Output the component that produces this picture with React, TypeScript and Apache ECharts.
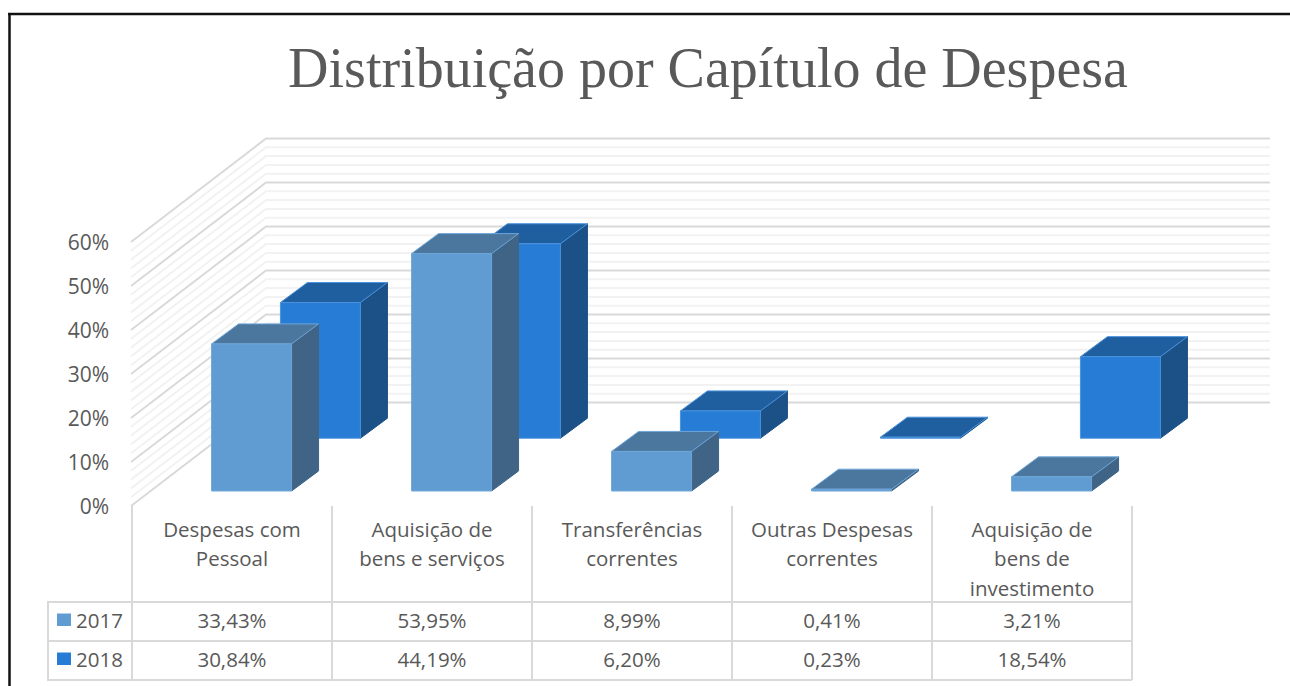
import React, { useEffect, useRef } from "react";
import * as echarts from "echarts";

const titleText = "Distribuição por Capítulo de Despesa";
const categories = [
  "Despesas com\nPessoal",
  "Aquisição de\nbens e serviços",
  "Transferências\ncorrentes",
  "Outras Despesas\ncorrentes",
  "Aquisição de\nbens de\ninvestimento",
];
const seriesNames = ["2017", "2018"];
const values2017 = [33.43, 53.95, 8.99, 0.41, 3.21];
const values2018 = [30.84, 44.19, 6.2, 0.23, 18.54];
const gridValues = Array.from({ length: 31 }, (_, i) => i * 2);

const WALL_DX = 135;
const WALL_DY = -103.5;
const BAR_DX = 27;
const BAR_DY = -20;
const BAR_HALF = 40;
const ROW_DEPTH = [0.145, 0.655];
const GRID_LEFT = 132;
const GRID_TOP = 242;
const GRID_W = 1000;
const GRID_H = 264;
const UI_FONT = "'Open Sans', sans-serif";
const TEXT_COLOR = "#595959";
const TABLE_COLOR = "#d9d9d9";

const palettes = [
  { front: "#609bd2", top: "#4b769e", side: "#3f6486", edge: "#6ea6d9" },
  { front: "#277dd5", top: "#1f5fa0", side: "#1c5187", edge: "#4a93dc" },
];

const fmt = (v: number) => v.toFixed(2).replace(".", ",") + "%";

function barSeries(row: number, values: number[]) {
  const pal = palettes[row];
  const depth = ROW_DEPTH[row];
  return {
    type: "custom",
    name: seriesNames[row],
    z: 5 + (1 - row),
    clip: false,
    silent: true,
    data: values.map((v, i) => [i, v]),
    renderItem: (_p: any, api: any) => {
      const [cx, yTop] = api.coord([api.value(0), api.value(1)]);
      const [, yBase] = api.coord([api.value(0), 0]);
      const ox = depth * WALL_DX;
      const oy = depth * WALL_DY;
      const l = cx + ox - BAR_HALF;
      const r = cx + ox + BAR_HALF;
      const t = yTop + oy;
      const b = yBase + oy;
      const poly = (points: number[][], fill: string, stroke?: string) => ({
        type: "polygon",
        shape: { points },
        style: { fill, stroke: stroke ?? fill, lineWidth: 1 },
      });
      return {
        type: "group",
        children: [
          poly([[r, t], [r + BAR_DX, t + BAR_DY], [r + BAR_DX, b + BAR_DY], [r, b]], pal.side),
          poly([[l, t], [l + BAR_DX, t + BAR_DY], [r + BAR_DX, t + BAR_DY], [r, t]], pal.top, pal.edge),
          poly([[l, t], [r, t], [r, b], [l, b]], pal.front, pal.edge),
        ],
      };
    },
  };
}

function rowSeries(row: number, values: number[], y: number) {
  return {
    type: "custom",
    z: 8,
    clip: false,
    silent: true,
    data: values.map((v, i) => [i, v]),
    renderItem: (_p: any, api: any) => {
      const [cx] = api.coord([api.value(0), 0]);
      return {
        type: "text",
        style: {
          text: fmt(api.value(1)),
          x: cx,
          y,
          fill: TEXT_COLOR,
          font: `20.5px ${UI_FONT}`,
          align: "center",
          verticalAlign: "middle",
        },
      };
    },
  };
}

const wallSeries = {
  type: "custom",
  z: 1,
  clip: false,
  silent: true,
  data: gridValues.map((v) => [0, v]),
  renderItem: (p: any, api: any) => {
    const v = api.value(1);
    const [, y] = api.coord([0, v]);
    const x0 = p.coordSys.x - 1;
    const x1 = x0 + WALL_DX;
    const x2 = x1 + 1004;
    const y1 = y + WALL_DY;
    const major = v % 10 === 0;
    return {
      type: "polyline",
      shape: { points: [[x0, y], [x1, y1], [x2, y1]] },
      style: { fill: "none", stroke: major ? "#d9d9d9" : "#f2f2f2", lineWidth: 2 },
    };
  },
};

const line = (x1: number, y1: number, x2: number, y2: number, stroke = TABLE_COLOR, lineWidth = 2) => ({
  type: "line",
  silent: true,
  shape: { x1, y1, x2, y2 },
  style: { stroke, lineWidth },
});

const columnXs = [0, 1, 2, 3, 4, 5].map((i) => GRID_LEFT + (i * GRID_W) / 5);
const rowYs = [602, 641, 680];

const graphics: any[] = [
  line(9.5, 13, 9.5, 686, "#111111", 2.5),
  line(8, 14, 1290, 14, "#111111", 2.5),
  ...columnXs.map((x) => line(x, 506, x, 680)),
  ...rowYs.map((y) => line(47, y, 1132, y)),
  line(48, 602, 48, 680),
  ...seriesNames.flatMap((name, i) => [
    {
      type: "rect",
      silent: true,
      shape: { x: 57, y: 613.5 + i * 39, width: 14, height: 12.5 },
      style: { fill: palettes[i].front },
    },
    {
      type: "text",
      silent: true,
      style: {
        text: name,
        x: 76,
        y: 620 + i * 39,
        fill: TEXT_COLOR,
        font: `20.5px ${UI_FONT}`,
        align: "left",
        verticalAlign: "middle",
      },
    },
  ]),
];

export default function App() {
  const ref = useRef<HTMLDivElement>(null);
  useEffect(() => {
    document.body.style.margin = "0";
    document.body.style.overflow = "hidden";
    const chart = echarts.init(ref.current!, undefined, { renderer: "svg" });
    chart.setOption({
      animation: false,
      backgroundColor: "#ffffff",
      title: {
        text: titleText,
        left: 703,
        top: 35,
        textAlign: "center",
        textStyle: {
          fontFamily: "'Liberation Serif', serif",
          fontWeight: "normal",
          fontSize: 56,
          color: TEXT_COLOR,
        },
      },
      grid: { left: GRID_LEFT, top: GRID_TOP, width: GRID_W, height: GRID_H },
      xAxis: {
        type: "category",
        data: categories,
        axisLine: { show: false },
        axisTick: { show: false },
        splitLine: { show: false },
        axisLabel: {
          interval: 0,
          margin: 8,
          color: TEXT_COLOR,
          fontFamily: UI_FONT,
          fontSize: 20.5,
          lineHeight: 29.5,
        },
      },
      yAxis: {
        type: "value",
        min: 0,
        max: 60,
        interval: 10,
        axisLine: { show: false },
        axisTick: { show: false },
        splitLine: { show: false },
        axisLabel: {
          formatter: "{value}%",
          margin: 23,
          padding: [6, 0, 0, 0],
          color: TEXT_COLOR,
          fontFamily: UI_FONT,
          fontSize: 21,
        },
      },
      graphic: graphics,
      series: [
        wallSeries,
        barSeries(1, values2018),
        barSeries(0, values2017),
        rowSeries(0, values2017, 620),
        rowSeries(1, values2018, 659),
      ],
    });
    return () => chart.dispose();
  }, []);
  return <div ref={ref} style={{ width: 1290, height: 686 }} />;
}
